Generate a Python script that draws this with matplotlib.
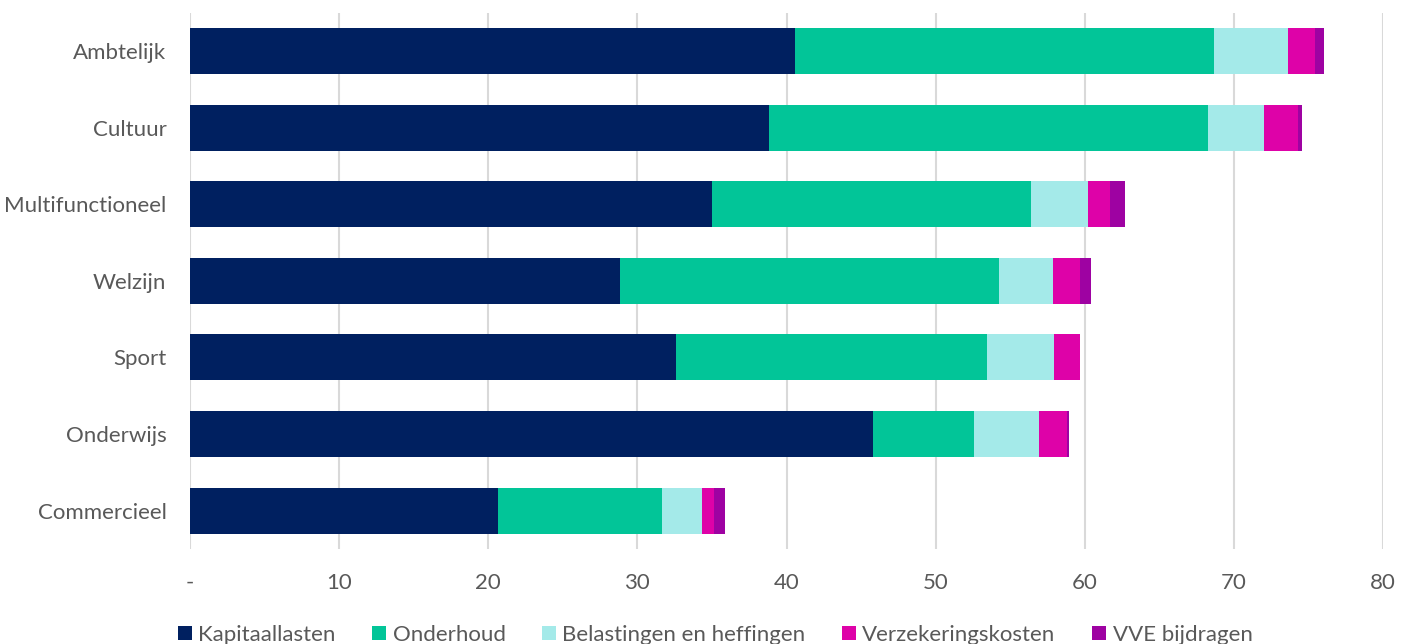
import matplotlib
matplotlib.use("Agg")
import matplotlib.pyplot as plt
import numpy as np

categories = ["Ambtelijk", "Cultuur", "Multifunctioneel", "Welzijn", "Sport", "Onderwijs", "Commercieel"]
series_names = ["Kapitaallasten", "Onderhoud", "Belastingen en heffingen", "Verzekeringskosten", "VVE bijdragen"]

kapitaallasten = [40.54, 38.81, 35.03, 28.85, 32.56, 45.80, 20.67]
onderhoud = [28.15, 29.43, 21.35, 25.38, 20.87, 6.76, 11.00]
belastingen = [4.96, 3.75, 3.84, 3.62, 4.52, 4.36, 2.66]
verzekering = [1.80, 2.30, 1.48, 1.80, 1.70, 1.89, 0.83]
vve = [0.61, 0.26, 0.99, 0.77, 0.05, 0.13, 0.74]

colors = ["#002060", "#02C598", "#A4EAE9", "#DE02A8", "#9E02A2"]
xticks = [0, 10, 20, 30, 40, 50, 60, 70, 80]
xticklabels = ["-", "10", "20", "30", "40", "50", "60", "70", "80"]

plt.rcParams['font.family'] = ['Lato', 'DejaVu Sans']
grey = "#595959"

fig = plt.figure(figsize=(14.11, 6.44), dpi=100)
ax = fig.add_axes([190/1411, 1-549/644, (1383-190)/1411, (549-12.7)/644])

y = np.arange(len(categories))
left = np.zeros(len(categories))
handles = []
for name, vals, c in zip(series_names, [kapitaallasten, onderhoud, belastingen, verzekering, vve], colors):
    h = ax.barh(y, vals, left=left, height=0.6, color=c, label=name, zorder=3)
    handles.append(h)
    left = left + np.array(vals)

ax.set_ylim(len(categories) - 0.5, -0.5)
ax.set_xlim(0, 80)
ax.set_yticks(y)
ax.set_yticklabels(categories, fontsize=16, color=grey)
ax.set_xticks(xticks)
ax.set_xticklabels(xticklabels, fontsize=16, color=grey)
ax.tick_params(axis='y', length=0, pad=17)
ax.tick_params(axis='x', length=0, pad=17)
ax.grid(axis='x', color="#D9D9D9", linewidth=1.5, zorder=0)
for s in ax.spines.values():
    s.set_visible(False)

fig.legend(handles=handles, loc='center', bbox_to_anchor=(715/1411, 1-635/644), ncol=5,
           frameon=False, fontsize=16, labelcolor=grey, handlelength=0.63, handleheight=0.63,
           handletextpad=0.3, columnspacing=1.63, borderaxespad=0, borderpad=0)

fig.savefig("out.png", dpi=100)
